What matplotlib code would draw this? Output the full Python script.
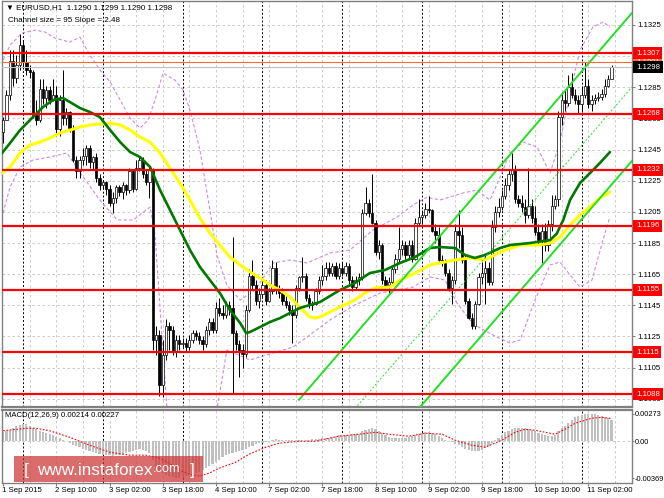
import numpy as np
import matplotlib
matplotlib.use('Agg')
import matplotlib.pyplot as plt
from matplotlib import transforms
from matplotlib.patches import Rectangle

plt.rcParams['font.family'] = ['Liberation Sans', 'DejaVu Sans']

# EURUSD H1, bars from 1 Sep 18:00 to 11 Sep 09:00 (broker time)
# prices are given in pips above 1.1000
base = 1.1
first_open_pips = 256
close_pips = [
    264, 280, 302, 291, 299, 312, 301, 296, 295, 267,
    264, 284, 278, 283, 277, 280, 258, 277, 265, 269,
    259, 238, 231, 238, 241, 246, 237, 240, 227, 222,
    224, 220, 211, 214, 221, 218, 222, 219, 231, 220,
    233, 238, 229, 224, 232, 123, 126, 94, 113, 132,
    129, 115, 123, 120, 121, 118, 123, 127, 125, 123,
    120, 129, 134, 129, 143, 140, 139, 145, 143, 127,
    120, 116, 114, 142, 164, 158, 148, 152, 158, 148,
    154, 169, 155, 153, 148, 145, 142, 139, 156, 163,
    164, 150, 145, 146, 154, 161, 164, 169, 166, 170,
    164, 169, 166, 170, 161, 157, 161, 163, 204, 211,
    204, 198, 179, 184, 161, 158, 160, 168, 175, 181,
    184, 177, 184, 175, 198, 202, 203, 207, 206, 193,
    190, 174, 173, 166, 156, 161, 193, 190, 174, 148,
    137, 132, 146, 163, 166, 169, 160, 195, 205, 208,
    215, 222, 229, 232, 213, 211, 208, 203, 209, 201,
    192, 187, 193, 184, 197, 209, 213, 266, 277, 275,
    285, 280, 277, 274, 280, 286, 274, 277, 278, 279,
    281, 286, 290, 298]
high_pips = [
    266, 283, 309, 309, 306, 319, 315, 309, 299, 296,
    277, 290, 290, 286, 286, 290, 286, 280, 296, 272,
    270, 261, 241, 241, 246, 248, 248, 241, 243, 229,
    225, 225, 222, 218, 222, 222, 224, 223, 233, 232,
    238, 241, 240, 232, 235, 233, 132, 129, 123, 136,
    134, 132, 126, 126, 124, 124, 126, 129, 129, 128,
    125, 132, 137, 137, 147, 150, 145, 148, 148, 189,
    129, 123, 120, 145, 168, 174, 161, 156, 161, 161,
    156, 174, 173, 158, 156, 151, 148, 145, 158, 164,
    176, 166, 152, 148, 156, 164, 171, 173, 173, 172,
    173, 172, 173, 173, 172, 164, 164, 166, 207, 221,
    213, 229, 200, 187, 185, 164, 163, 171, 178, 195,
    187, 186, 187, 187, 201, 213, 206, 211, 215, 207,
    197, 195, 177, 175, 168, 164, 197, 206, 195, 177,
    150, 140, 148, 166, 173, 177, 173, 200, 209, 214,
    219, 227, 232, 243, 235, 216, 216, 213, 233, 213,
    209, 197, 197, 198, 200, 216, 216, 270, 282, 283,
    293, 294, 284, 280, 286, 301, 290, 280, 281, 282,
    284, 290, 293, 299]
low_pips = [
    249, 264, 277, 286, 288, 296, 297, 293, 291, 265,
    261, 263, 274, 272, 274, 276, 254, 254, 261, 261,
    256, 237, 227, 227, 235, 235, 233, 232, 224, 219,
    220, 216, 209, 204, 211, 215, 213, 216, 217, 218,
    219, 231, 227, 222, 214, 116, 113, 87, 86, 110,
    116, 113, 112, 116, 118, 115, 116, 121, 123, 120,
    116, 118, 126, 127, 127, 138, 136, 137, 139, 89,
    116, 99, 105, 112, 141, 155, 145, 143, 150, 145,
    147, 152, 152, 150, 145, 143, 139, 121, 137, 154,
    160, 148, 143, 142, 145, 152, 158, 161, 164, 164,
    162, 162, 164, 164, 159, 154, 155, 158, 161, 203,
    202, 197, 177, 175, 159, 155, 153, 158, 166, 173,
    177, 175, 175, 173, 174, 196, 198, 201, 204, 192,
    185, 173, 170, 164, 154, 146, 159, 182, 172, 146,
    136, 130, 130, 145, 159, 146, 158, 158, 192, 202,
    206, 213, 219, 225, 211, 208, 205, 198, 201, 198,
    190, 184, 172, 180, 180, 193, 207, 209, 261, 270,
    273, 278, 274, 268, 269, 278, 272, 270, 274, 276,
    277, 279, 285, 290]

time_label_bars = [0, 16, 32, 48, 64, 80, 96, 112, 128, 144, 160, 176]
time_labels = ['1 Sep 2015', '2 Sep 10:00', '3 Sep 02:00', '3 Sep 18:00',
               '4 Sep 10:00', '7 Sep 02:00', '7 Sep 18:00', '8 Sep 10:00',
               '9 Sep 02:00', '9 Sep 18:00', '10 Sep 10:00', '11 Sep 02:00']
day_start_bars = [6, 30, 54, 78, 102, 126, 150, 174]

levels = [1.1307, 1.1268, 1.1232, 1.1196, 1.1155, 1.1115, 1.1088]
level_orange = 1.1301
price_ticks = [1.1085, 1.1105, 1.1125, 1.1145, 1.1165, 1.1185, 1.1205,
               1.1225, 1.1245, 1.1265, 1.1285, 1.1305, 1.1325]

# moving averages and bands (bar, pips)
green_bar = [-0.3, 2.1, 5.1, 9.0, 12.0, 15.0, 18.0, 20.1, 23.1, 26.1,
             29.1, 32.2, 35.2, 38.2, 41.2, 44.2, 46.3, 47.2, 50.2, 53.2,
             56.2, 59.2, 62.2, 65.2, 68.2, 71.3, 73.1, 74.3, 77.3, 80.3,
             83.3, 86.3, 89.3, 92.3, 95.3, 101.3, 105.8, 110.3, 114.9, 119.4,
             123.9, 128.4, 131.4, 135.9, 138.9, 141.9, 144.9, 149.5, 152.5, 158.5,
             164.5, 166.5, 168.5, 170.5, 173.5, 176.5, 179.5, 182.5]
green_pips = [242.8, 249.2, 257.5, 265.9, 272.3, 276.8, 278.1, 275.5, 271.7, 269.1,
              265.9, 257.5, 249.8, 243.4, 240.2, 233.8, 223.5, 219.0, 206.2, 193.3,
              180.5, 169.6, 161.2, 152.9, 142.0, 133.6, 127.2, 127.9, 131.1, 134.3,
              136.8, 140.1, 143.3, 145.2, 147.1, 154.8, 159.3, 165.7, 167.7, 172.2,
              176.0, 181.8, 182.4, 181.8, 177.3, 175.4, 177.3, 181.8, 183.7, 185.0,
              186.9, 191.0, 200.0, 212.6, 223.5, 229.9, 236.4, 243.4]
yellow_bar = [-0.3, 2.1, 5.1, 8.1, 11.1, 14.1, 17.1, 20.1, 23.1, 26.1,
              29.1, 32.2, 35.2, 38.2, 41.2, 44.2, 47.2, 50.2, 53.2, 56.2,
              59.2, 62.2, 65.2, 68.2, 71.3, 74.3, 77.3, 80.3, 83.3, 86.3,
              89.3, 92.3, 93.8, 95.3, 98.3, 101.3, 105.8, 108.8, 111.8, 116.4,
              119.4, 123.9, 128.4, 131.4, 135.9, 140.4, 144.9, 149.5, 155.5, 161.5,
              164.5, 167.5, 170.5, 173.5, 176.5, 179.5, 182.5]
yellow_pips = [229.9, 233.8, 242.8, 247.9, 249.8, 252.4, 255.6, 257.5, 259.5, 260.8,
               261.4, 262.0, 260.8, 257.5, 253.0, 249.8, 242.8, 233.1, 223.5, 212.6,
               201.0, 191.4, 183.7, 176.0, 170.9, 166.4, 162.5, 158.0, 154.8, 150.3,
               143.3, 137.5, 136.8, 137.5, 140.7, 143.9, 148.4, 152.9, 156.1, 156.7,
               161.2, 165.7, 170.9, 172.2, 174.1, 175.4, 174.1, 179.2, 183.7, 183.7,
               185.0, 188.8, 196.6, 203.0, 208.1, 213.9, 217.7]
upper_bar = [0, 2.1, 5.7, 9.6, 12.6, 15.6, 20.1, 23.1, 26.1, 29.1,
             32.2, 35.2, 38.2, 41.2, 43.6, 45.7, 48.1, 51.7, 54.1, 56.2,
             59.2, 62.2, 64.3, 67.3, 71.3, 75.8, 81.2, 86.3, 91.4, 98.3,
             104.3, 111.2, 118.5, 123.3, 127.5, 131.4, 138.3, 142.5, 146.4, 149.5,
             152.4, 156.4, 160.6, 164.5, 167.5, 170.5, 173.5, 177.4, 180.4, 182.5]
upper_pips = [302.5, 312.1, 319.8, 321.7, 320.5, 316.6, 314.0, 317.2, 305.7, 296.1,
              288.4, 276.8, 265.2, 258.8, 264.0, 276.8, 294.1, 289.6, 283.2, 270.4,
              244.7, 206.2, 177.3, 158.0, 148.4, 154.8, 172.2, 174.1, 172.2, 178.6,
              180.5, 193.3, 201.7, 209.4, 214.5, 212.6, 217.1, 219.0, 212.6, 227.4,
              242.8, 249.8, 246.6, 229.9, 250.0, 281.3, 308.9, 323.7, 326.9, 323.7]
lower_bar = [0, 2.1, 5.1, 9.0, 14.1, 19.2, 24.1, 29.1, 34.3, 39.1,
             44.2, 45.7, 49.3, 56.2, 64.3, 67.3, 74.3, 81.2, 87.2, 91.4,
             98.3, 105.8, 113.4, 123.3, 128.4, 132.9, 136.5, 140.4, 143.4, 148.5,
             152.4, 155.5, 160.0, 164.5, 167.5, 170.5, 173.5, 177.1, 180.4, 182.5]
lower_pips = [204.3, 221.0, 233.8, 238.3, 240.2, 242.8, 227.4, 212.6, 199.8, 199.8,
              208.1, 190.1, 77.8, 45.7, 77.8, 116.3, 109.9, 114.4, 118.2, 124.6,
              135.6, 145.2, 152.9, 156.7, 163.2, 161.2, 146.5, 135.6, 130.4, 124.6,
              120.8, 122.7, 148.4, 170.9, 172.8, 164.5, 156.7, 161.2, 186.9, 201.7]

# linear regression channel from the header
channel_first_bar = 89
channel_last_bar = 183
channel_mid_last = 1.1270
channel_slope = 0.000248
channel_size = 0.0095

# MACD(12,26,9), values in units of 0.001
macd_hist = [
    0.9, 1.0, 1.1, 1.3, 1.5, 1.6,
    1.7, 1.7, 1.5, 1.3, 1.2, 1.0, 0.95, 0.85, 0.7, 0.6,
    0.45, 0.3, 0.15, 0.0, -0.2, -0.35, -0.5, -0.6, -0.75, -0.9,
    -1.0, -1.1, -1.2, -1.3, -1.35, -1.4, -1.4, -1.45, -1.4, -1.4,
    -1.3, -1.2, -1.1, -1.0, -0.9, -0.8, -0.85, -1.0, -1.2, -1.9,
    -2.6, -3.0, -3.2, -3.35, -3.5, -3.6, -3.7, -3.65, -3.6, -3.5,
    -3.4, -3.3, -3.2, -3.05, -2.9, -2.7, -2.5, -2.3, -2.1, -1.85,
    -1.6, -1.4, -1.3, -1.2, -1.1, -1.0, -0.9, -0.8, -0.6, -0.45,
    -0.3, -0.2, -0.15, -0.1, 0.0, 0.1, 0.2, 0.15, 0.1, 0.1,
    0.1, 0.1, 0.1, 0.1, 0.1, 0.15, 0.15, 0.2, 0.2, 0.25,
    0.3, 0.3, 0.35, 0.4, 0.5, 0.6, 0.6, 0.65, 0.65, 0.7,
    0.7, 0.75, 1.0, 1.15, 1.25, 1.3, 1.2, 1.0, 0.8, 0.6,
    0.4, 0.35, 0.3, 0.3, 0.35, 0.35, 0.4, 0.5, 0.6, 0.7,
    0.8, 0.9, 0.95, 0.85, 0.7, 0.5, 0.3, 0.15, 0.0, -0.1,
    -0.3, -0.4, -0.6, -0.8, -0.9, -1.0, -1.0, -0.95, -0.85, -0.7,
    -0.5, -0.2, 0.1, 0.35, 0.6, 0.9, 1.05, 1.2, 1.3, 1.3,
    1.3, 1.3, 1.2, 1.1, 1.0, 0.85, 0.75, 0.6, 0.55, 0.5,
    0.6, 1.0, 1.3, 1.55, 1.8, 2.1, 2.4, 2.55, 2.65, 2.7,
    2.73, 2.72, 2.7, 2.65, 2.55, 2.45, 2.3, 2.14]
signal_bar = [0, 7, 10, 14, 20, 26, 32, 38, 43, 47, 50, 53, 56, 59, 62,
              65, 70, 74, 79, 83, 89, 94, 98, 101, 107, 112, 116, 122, 127,
              132, 136, 141, 145, 150, 154, 157, 160, 163, 166, 169, 172,
              177, 180, 183]
signal_val = [1.05, 1.3, 1.3, 1.05, 0.4, -0.4, -1.1, -1.4, -1.4, -1.7, -2.2,
              -2.9, -3.3, -3.5, -3.2, -2.7, -2.1, -1.3, -0.6, -0.2, 0.0, 0.0,
              0.3, 0.5, 0.7, 0.9, 0.7, 0.5, 0.8, 0.7, 0.1, -0.4, -0.6, 0.1,
              0.9, 1.2, 1.1, 0.9, 0.7, 1.2, 1.8, 2.3, 2.4, 2.27]
macd_ticks = [0.00273, 0.0, -0.00369]
macd_tick_labels = ['0.00273', '0.00', '-0.00369']


def pips(v):
    return base + np.asarray(v, dtype=float) / 1e4


close = pips(close_pips)
high = pips(high_pips)
low = pips(low_pips)
opn = np.concatenate([[pips(first_open_pips)], close[:-1]])
high = np.maximum(high, np.maximum(opn, close))
low = np.minimum(low, np.minimum(opn, close))
idx = np.arange(len(close))

W, H = 664, 498
fig = plt.figure(figsize=(W / 100, H / 100), dpi=100)
fig.patch.set_facecolor('white')


def px_box(x0, y0, x1, y1):
    return [x0 / W, 1 - y1 / H, (x1 - x0) / W, (y1 - y0) / H]


ax = fig.add_axes(px_box(2, 1, 632, 407))
ax2 = fig.add_axes(px_box(2, 410, 632, 483), sharex=ax)

# bar i sits at pixel 3.1 + 3.325 * i
xlim = ((2 - 3.1) / 3.325, (632 - 3.1) / 3.325)
ax.set_xlim(*xlim)
ax.set_ylim(1.10797, 1.13404)
ax2.set_ylim(-0.00419, 0.00313)

grid_kw = dict(color='#c4c4c4', lw=0.6, ls=(0, (3, 3)), zorder=0)
for a in (ax, ax2):
    for b in range(8, 190, 8):
        a.axvline(b, **grid_kw)
    for b in day_start_bars:
        a.axvline(b, color='black', lw=0.7, ls=(0, (2, 2)), zorder=0.5)
    for s in a.spines.values():
        s.set_color('#808080')
        s.set_linewidth(1.0)
for p in price_ticks:
    ax.axhline(p, **grid_kw)
ax2.axhline(0, **grid_kw)
ax.spines['bottom'].set_linewidth(1.6)
ax2.spines['top'].set_linewidth(1.6)

# bollinger style bands
band_kw = dict(color='#cc88ee', lw=0.8, ls=(0, (3, 2)), zorder=1)
ax.plot(upper_bar, pips(upper_pips), **band_kw)
ax.plot(lower_bar, pips(lower_pips), **band_kw)

# candles
up = close >= opn
ax.vlines(idx, low, high, color='black', lw=0.7, zorder=4)
ax.bar(idx[up], (close - opn)[up], bottom=opn[up], width=0.7, color='white',
       edgecolor='black', linewidth=0.5, zorder=5)
ax.bar(idx[~up], (close - opn)[~up], bottom=opn[~up], width=0.7, color='black',
       edgecolor='black', linewidth=0.5, zorder=5)

# moving averages
ax.plot(yellow_bar, pips(yellow_pips), color='#ffff00', lw=2.2, zorder=6,
        solid_capstyle='round')
ax.plot(green_bar, pips(green_pips), color='#007800', lw=1.9, zorder=6,
        solid_capstyle='round')

# regression channel (extends to the right edge)
ch_x = np.array([channel_first_bar, xlim[1]])
ch_mid = channel_mid_last + channel_slope * (ch_x - channel_last_bar)
lime = '#22e022'
ax.plot(ch_x, ch_mid + channel_size / 2, color=lime, lw=1.4, zorder=7)
ax.plot(ch_x, ch_mid - channel_size / 2, color=lime, lw=1.4, zorder=7)
ax.plot(ch_x, ch_mid, color=lime, lw=0.7, ls=(0, (2, 2)), zorder=7)

# horizontal levels
ax.axhline(close[-1], color='#c0c0c0', lw=0.8, zorder=7)
ax.axhline(level_orange, color='#ff6a30', lw=0.8, zorder=7)
for lv in levels:
    ax.axhline(lv, color='#ff0000', lw=1.6, zorder=8)

# right price scale
ax.yaxis.tick_right()
ax.set_yticks(price_ticks)
ax.set_yticklabels([f'{p:.4f}' for p in price_ticks])
ax.tick_params(axis='y', labelsize=5.6, length=2, pad=1.5, color='#808080')
ax.tick_params(axis='x', bottom=False, labelbottom=False)

ytrans = transforms.blended_transform_factory(ax.transAxes, ax.transData)
lab_x = (636 - 2) / 630


def side_label(y, txt, fc, z):
    ax.text(lab_x, y, txt, transform=ytrans, ha='left', va='center',
            fontsize=5.6, color='white', clip_on=False, zorder=z,
            bbox=dict(boxstyle='square,pad=0.35', fc=fc, ec='none'))


side_label(level_orange, f'{level_orange:.4f}', '#ff6a30', 20)
for lv in levels:
    side_label(lv, f'{lv:.4f}', '#ff0000', 21)
side_label(close[-1], f'{close[-1]:.4f}', '#000000', 22)

# MACD panel
ax2.bar(idx, np.asarray(macd_hist) / 1e3, width=0.65, color='#c0c0c0', zorder=2)
ax2.plot(signal_bar, np.asarray(signal_val) / 1e3, color='#ff0000', lw=0.8,
         ls=(0, (1.5, 1.5)), zorder=3)
ax2.yaxis.tick_right()
ax2.set_yticks(macd_ticks)
ax2.set_yticklabels(macd_tick_labels)
ax2.tick_params(axis='y', labelsize=5.3, length=1.5, pad=0.3, color='#808080')
ax2.set_xticks(time_label_bars)
ax2.tick_params(axis='x', labelbottom=False, length=2, color='#808080')
ax2.text(0.005, 0.93, f'MACD(12,26,9) {macd_hist[-1] / 1e3:.5f} {signal_val[-1] / 1e3:.5f}',
         transform=ax2.transAxes, ha='left', va='center', fontsize=5.6, zorder=10)

xtrans = transforms.blended_transform_factory(ax2.transData, ax2.transAxes)
for b, lab in zip(time_label_bars, time_labels):
    ax2.text(b - 0.3, -0.06, lab, transform=xtrans, ha='left', va='top',
             fontsize=5.6, clip_on=False)

# header
fig.text(6 / W, 1 - 8 / H,
         f'\u25bc EURUSD,H1  {opn[-1]:.4f} {high[-1]:.4f} {low[-1]:.4f} {close[-1]:.4f}',
         ha='left', va='center', fontsize=5.8)
fig.text(8 / W, 1 - 20 / H, 'Channel size = 95 Slope = 2.48',
         ha='left', va='center', fontsize=5.8)

# watermark
fig.add_artist(Rectangle((14 / W, 1 - 482 / H), 189 / W, 26 / H,
                         transform=fig.transFigure, fc='#cc3333', alpha=0.72,
                         ec='none', zorder=30))
wy = 1 - 470 / H
fig.text(24 / W, wy, '[', color='white', fontsize=12.5, ha='left', va='center', zorder=31)
t1 = fig.text(37 / W, wy, 'www.instaforex', color='white', fontsize=12.3,
              ha='left', va='center', zorder=31)
fig.canvas.draw()
bb = t1.get_window_extent()
t2 = fig.text(bb.x1 / W, wy + 1.0 / H, '.com', color='white', fontsize=9.3,
              ha='left', va='center', zorder=31)
fig.canvas.draw()
bb2 = t2.get_window_extent()
fig.text(max(190, bb2.x1 + 4) / W, wy, ']', color='white', fontsize=12.5,
         ha='left', va='center', zorder=31)

fig.savefig('out.png', dpi=100)
